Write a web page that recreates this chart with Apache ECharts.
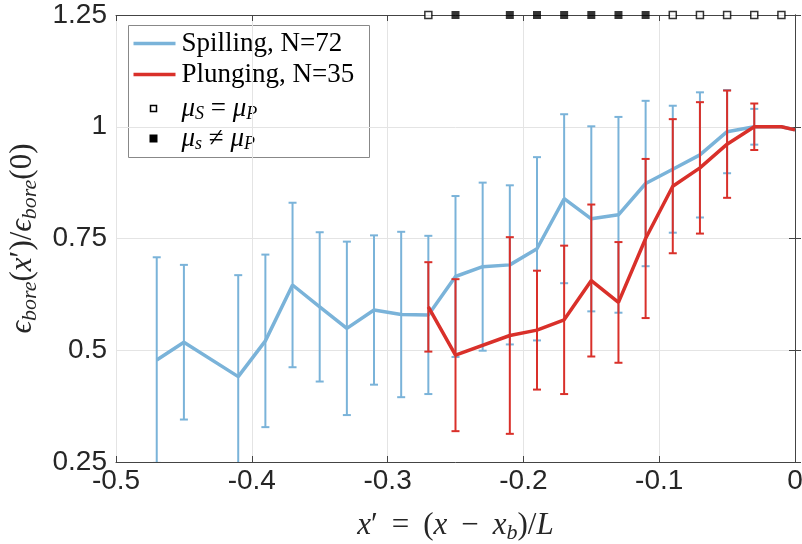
<!DOCTYPE html>
<html>
<head>
<meta charset="utf-8">
<script src="https://cdn.jsdelivr.net/npm/echarts@6/dist/echarts.min.js"></script>
<style>
  html, body { margin: 0; padding: 0; background: #fff; }
  #chart { width: 802px; height: 544px; }
</style>
</head>
<body>
<div id="chart"></div>
<script>
// spilling breakers
const spillX = [-0.47, -0.45, -0.41, -0.39, -0.37, -0.35, -0.33, -0.31, -0.29, -0.27, -0.25, -0.23,
  -0.21, -0.19, -0.17, -0.15, -0.13, -0.11, -0.09, -0.07, -0.05, -0.03, -0.01, 0];
const spillMean = [0.478, 0.518, 0.441, 0.521, 0.646, 0.597, 0.549, 0.590, 0.580, 0.579, 0.665, 0.687,
  0.691, 0.727, 0.839, 0.794, 0.803, 0.873, 0.905, 0.937, 0.989, 1.0, 1.0, 0.993];
const spillErr = [0.230, 0.173, 0.227, 0.193, 0.184, 0.167, 0.194, 0.167, 0.185, 0.177, 0.180, 0.188,
  0.178, 0.205, 0.189, 0.207, 0.219, 0.185, 0.142, 0.140, 0.093, 0.040, 0, 0];

// plunging breakers
const plungeX = [-0.27, -0.25, -0.21, -0.19, -0.17, -0.15, -0.13, -0.11, -0.09, -0.07, -0.05, -0.03, -0.01, 0];
const plungeMean = [0.597, 0.489, 0.533, 0.545, 0.568, 0.656, 0.607, 0.750, 0.867, 0.908, 0.961, 1.0, 1.0, 0.993];
const plungeErr = [0.100, 0.170, 0.220, 0.133, 0.166, 0.170, 0.135, 0.178, 0.150, 0.147, 0.120, 0.052, 0, 0];

// significance markers along the top
const sameX = [-0.27, -0.09, -0.07, -0.05, -0.03, -0.01];
const diffX = [-0.25, -0.21, -0.19, -0.17, -0.15, -0.13, -0.11];
const markerY = 1.25;

const blue = "#7ab3d9";
const red = "#d9302a";
const serif = "'Liberation Serif', 'DejaVu Serif', serif";
const sans = "'Liberation Sans', Arial, sans-serif";

const lineData = (xs, ys) => xs.map((x, i) => [x, ys[i]]);
const errData = (xs, ys, es) =>
  xs.map((x, i) => [x, ys[i] - es[i], ys[i] + es[i]]).filter((d, i) => es[i] > 0);

function errorBar(color) {
  return function (params, api) {
    const x = api.value(0);
    const lo = api.coord([x, api.value(1)]);
    const hi = api.coord([x, api.value(2)]);
    const w = 4;
    const style = { stroke: color, lineWidth: 2 };
    return {
      type: "group",
      children: [
        { type: "line", shape: { x1: lo[0], y1: lo[1], x2: hi[0], y2: hi[1] }, style },
        { type: "line", shape: { x1: hi[0] - w, y1: hi[1], x2: hi[0] + w, y2: hi[1] }, style },
        { type: "line", shape: { x1: lo[0] - w, y1: lo[1], x2: lo[0] + w, y2: lo[1] }, style }
      ]
    };
  };
}

const mathRich = {
  i: { fontFamily: serif, fontStyle: "italic", fontSize: 31, color: "#262626" },
  n: { fontFamily: serif, fontSize: 31, color: "#262626" },
  sub: { fontFamily: serif, fontStyle: "italic", fontSize: 22, color: "#262626", padding: [15, 0, 0, 0] }
};

const legendRich = {
  i: { fontFamily: serif, fontStyle: "italic", fontSize: 27, color: "#000" },
  n: { fontFamily: serif, fontSize: 27, color: "#000" },
  sub: { fontFamily: serif, fontStyle: "italic", fontSize: 18, color: "#000", padding: [12, 0, 0, 0] }
};

const chart = echarts.init(document.getElementById("chart"));
chart.setOption({
  animation: false,
  grid: { left: 116, right: 7, top: 15, bottom: 82, show: false, outerBoundsMode: "none" },
  xAxis: [
    {
      type: "value", min: -0.5, max: 0, interval: 0.1,
      axisLine: { lineStyle: { color: "#444", width: 1 } },
      axisTick: { inside: true, length: 6, lineStyle: { color: "#444" } },
      axisLabel: { fontFamily: sans, fontSize: 28, color: "#262626", margin: 5,
        formatter: v => String(Math.round(v * 10) / 10) },
      splitLine: { show: true, lineStyle: { color: "#e4e4e4" } },
      name: "{i|x}{n|′ \u2009=\u2009 (}{i|x}{n| \u2009−\u2009 }{i|x}{sub|b}{n|)/}{i|L}",
      nameLocation: "middle", nameGap: 45,
      nameTextStyle: { rich: mathRich }
    },
    {
      type: "value", position: "top", min: -0.5, max: 0, interval: 0.1,
      axisLine: { lineStyle: { color: "#444", width: 1 } },
      axisTick: { inside: true, length: 6, lineStyle: { color: "#444" } },
      axisLabel: { show: false }, splitLine: { show: false }
    }
  ],
  yAxis: [
    {
      type: "value", min: 0.25, max: 1.25, interval: 0.25,
      axisLine: { show: true, lineStyle: { color: "#444", width: 1 } },
      axisTick: { show: true, inside: true, length: 6, lineStyle: { color: "#444" } },
      axisLabel: { fontFamily: sans, fontSize: 28, color: "#262626", margin: 9 },
      splitLine: { show: true, lineStyle: { color: "#e4e4e4" } },
      name: "{i|ϵ}{sub|bore}{n|(}{i|x}{n|′)/}{i|ϵ}{sub|bore}{n|(0)}",
      nameLocation: "middle", nameGap: 67, nameRotate: 90,
      nameTextStyle: { rich: mathRich }
    },
    {
      type: "value", position: "right", min: 0.25, max: 1.25, interval: 0.25,
      axisLine: { show: true, lineStyle: { color: "#444", width: 1 } },
      axisTick: { show: true, inside: true, length: 6, lineStyle: { color: "#444" } },
      axisLabel: { show: false }, splitLine: { show: false }
    }
  ],
  series: [
    {
      name: "Spilling err", type: "custom", clip: true,
      renderItem: errorBar(blue),
      encode: { x: 0, y: [1, 2] },
      data: errData(spillX, spillMean, spillErr), z: 2
    },
    {
      name: "Spilling, N=72", type: "line", showSymbol: false,
      lineStyle: { color: blue, width: 3.5 }, itemStyle: { color: blue },
      data: lineData(spillX, spillMean), z: 3
    },
    {
      name: "Plunging err", type: "custom", clip: true,
      renderItem: errorBar(red),
      encode: { x: 0, y: [1, 2] },
      data: errData(plungeX, plungeMean, plungeErr), z: 4
    },
    {
      name: "Plunging, N=35", type: "line", showSymbol: false,
      lineStyle: { color: red, width: 3.5 }, itemStyle: { color: red },
      data: lineData(plungeX, plungeMean), z: 5
    },
    {
      name: "same", type: "scatter", symbol: "rect", symbolSize: 7, clip: false,
      itemStyle: { color: "#fff", borderColor: "#000", borderWidth: 1.5 },
      data: sameX.map(x => [x, markerY]), z: 10
    },
    {
      name: "diff", type: "scatter", symbol: "rect", symbolSize: 8, clip: false,
      itemStyle: { color: "#000" },
      data: diffX.map(x => [x, markerY]), z: 10
    }
  ],
  graphic: [
    {
      type: "group", left: 128, top: 25, z: 20,
      children: [
        { type: "rect", shape: { x: 0, y: 0, width: 241, height: 132 },
          style: { fill: "#fff", stroke: "#888", lineWidth: 1 } },
        { type: "line", shape: { x1: 5, y1: 18, x2: 47, y2: 18 }, style: { stroke: blue, lineWidth: 3.5 } },
        { type: "text", x: 53, y: 18, style: { text: "Spilling, N=72", font: "27px " + serif, fill: "#000", verticalAlign: "middle" } },
        { type: "line", shape: { x1: 5, y1: 49, x2: 47, y2: 49 }, style: { stroke: red, lineWidth: 3.5 } },
        { type: "text", x: 53, y: 49, style: { text: "Plunging, N=35", font: "27px " + serif, fill: "#000", verticalAlign: "middle" } },
        { type: "rect", shape: { x: 22, y: 80, width: 6, height: 6 }, style: { fill: "#fff", stroke: "#000", lineWidth: 1.5 } },
        { type: "text", x: 53, y: 83, style: { text: "{i|μ}{sub|S}{n| = }{i|μ}{sub|P}", rich: legendRich, verticalAlign: "middle" } },
        { type: "rect", shape: { x: 21, y: 109, width: 8, height: 8 }, style: { fill: "#000" } },
        { type: "text", x: 53, y: 113, style: { text: "{i|μ}{sub|s}{n| ≠ }{i|μ}{sub|P}", rich: legendRich, verticalAlign: "middle" } }
      ]
    }
  ]
});
</script>
</body>
</html>
